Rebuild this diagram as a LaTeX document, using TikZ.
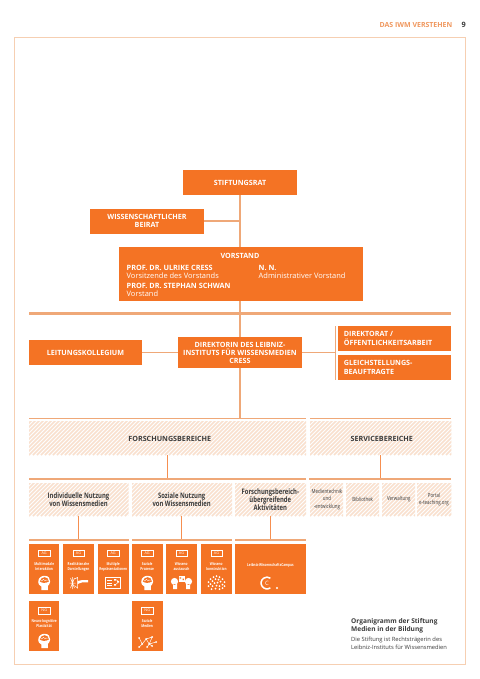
\documentclass[tikz,border=0pt]{standalone}
\usepackage{fontspec}
\setmainfont{Open Sans}
\newfontfamily\narrowfont[FakeStretch=0.78]{Open Sans}
\definecolor{iwm}{HTML}{F47324}
\definecolor{iwmline}{HTML}{EFA878}
\definecolor{iwmframe}{HTML}{F6CFB2}
\definecolor{iwmhatch}{HTML}{F9E0CE}
\definecolor{ink}{HTML}{3C3C3C}
\tikzset{
 x=1bp,y=-1bp,
 box/.style={text=white,font=\fontsize{7.2}{8.3}\selectfont\bfseries,align=center,inner sep=0pt},
 vbox/.style={text=white,anchor=north west,align=left,inner sep=0pt,font=\fontsize{7.5}{8}\selectfont},
 conn/.style={draw=iwmline,line width=1.2bp},
 strong/.style={draw=iwm!80!white,line width=1bp},
 rule/.style={draw=iwmline,line width=1.2bp},
 hatchbox/.style={inner sep=0pt,align=center,text=ink},
 tiletext/.style={text=white,font=\narrowfont\fontsize{4}{5}\selectfont\bfseries,align=center,inner sep=0pt},
 tagbox/.style={draw=white,line width=.4bp,text=white,font=\fontsize{3.8}{4}\selectfont,minimum width=11.5bp,minimum height=6.6bp,inner sep=0pt},
}
\newcommand{\hatchrect}[4]{%
 \begin{scope}
 \clip (#1,#2) rectangle (#3,#4);
 \foreach \k in {0,4,...,340}{
  \draw[iwmhatch,line width=1.5bp] ({#1+\k-40},#4) -- ++(40,-40);
 }
 \end{scope}
}
\newcommand{\brain}[2]{% centre x, y
 \begin{scope}[shift={(#1,#2)}]
 \fill[white] (-6,-1) .. controls (-6,-6) and (-2,-7.2) .. (0.5,-7.2)
   .. controls (4.5,-7.2) and (6,-4.5) .. (6,-1.5)
   .. controls (6,0.5) and (4.5,2) .. (3.6,3)
   -- (3.6,7) -- (-2.8,7) -- (-2.8,3.5) .. controls (-5,2.5) and (-6,1) .. (-6,-1) -- cycle;
 \fill[iwm] (-4.4,-1.5) .. controls (-4.4,-4.5) and (-1,-5.8) .. (0.5,-5.8)
   .. controls (3,-5.8) and (4.6,-3.8) .. (4.6,-1.5)
   .. controls (2,.3) and (-2,.3) .. (-4.4,-1.5) -- cycle;
 \draw[white,line width=.5bp] (-3,-2) .. controls (-2,-4) and (-1,-2) .. (0,-4) (0,-2) .. controls (1,-4) and (2,-2) .. (3.5,-3);
 \end{scope}
}
\begin{document}
\begin{tikzpicture}
\useasboundingbox (0,0) rectangle (480,679);
\fill[white] (0,0) rectangle (480,679);
% frame and header
\draw[iwmframe,line width=1bp] (14.5,37.2) rectangle (465.5,664.5);
\node[anchor=east,inner sep=0pt,text=iwmline!70!iwm,font=\fontsize{7}{8}\selectfont\bfseries] (hdr) at (452.5,25.5) {DAS IWM VERSTEHEN};
\node[anchor=east,inner sep=0pt,text=ink,font=\fontsize{7.4}{8}\selectfont\bfseries] (pg) at (466,25.3) {9};
% Stiftungsrat and Beirat
\coordinate (stiftS) at (240,195);
\coordinate (vorN) at (240,247);
\coordinate (beiE) at (204,221);
\coordinate (beiJ) at (240,221);
\draw[conn] (stiftS) -- (vorN);
\draw[conn] (beiE) -- (beiJ);
\fill[iwm] (183,170) rectangle (297,195);
\node[box] (stift) at (240,182.5) {STIFTUNGSRAT};
\fill[iwm] (90,208.5) rectangle (204,233.5);
\node[box] (beirat) at (147,221) {WISSENSCHAFTLICHER\\BEIRAT};
% Vorstand
\fill[iwm] (119,247.3) rectangle (363,301.3);
\node[box] (vor) at (240,255.5) {VORSTAND};
\node[vbox] (v1) at (126.5,264.9) {{\fontsize{7.3}{8}\selectfont\bfseries PROF. DR. ULRIKE CRESS}\\Vorsitzende des Vorstands};
\node[vbox] (v2) at (126.5,282.7) {{\fontsize{7.3}{8}\selectfont\bfseries PROF. DR. STEPHAN SCHWAN}\\Vorstand};
\node[vbox] (v3) at (258.5,264.9) {{\fontsize{7.3}{8}\selectfont\bfseries N. N.}\\Administrativer Vorstand};
% middle
\coordinate (vorS) at (240,301.3);
\coordinate (dirN) at (240,337);
\coordinate (dirS) at (240,368.3);
\coordinate (forN) at (240,418.3);
\draw[conn] (vorS) -- (dirN);
\draw[conn] (dirS) -- (forN);
\draw[iwmline,line width=2.6bp] (29,313.5) -- (451.3,313.5);
\coordinate (leiE) at (142,352.5);
\coordinate (dirW) at (178,352.5);
\coordinate (dirE) at (302,352.5);
\coordinate (brk) at (335.5,352.5);
\draw[conn] (leiE) -- (dirW);
\draw[conn] (dirE) -- (brk);
\draw[conn] (335.5,326) -- (335.5,379.5);
\fill[iwm] (178,336.7) rectangle (302,368.3);
\node[box] (dir) at (240,352.8) {DIREKTORIN DES LEIBNIZ-\\INSTITUTS FÜR WISSENSMEDIEN\\CRESS};
\fill[iwm] (29,340.3) rectangle (142,365);
\node[box] (lei) at (85.5,353) {LEITUNGSKOLLEGIUM};
\fill[iwm] (338,326) rectangle (451.3,350.7);
\node[box,anchor=west,align=left] (dkt) at (343.7,338.5) {DIREKTORAT /\\ÖFFENTLICHKEITSARBEIT};
\fill[iwm] (338,355) rectangle (451.3,379.5);
\node[box,anchor=west,align=left] (gls) at (343.7,367.3) {GLEICHSTELLUNGS-\\BEAUFTRAGTE};
% upper rules
\draw[rule] (29,418.3) -- (306,418.3);
\draw[rule] (310,418.3) -- (451.3,418.3);
\hatchrect{29}{421.8}{306}{455}
\hatchrect{310}{421.8}{451.3}{455}
\node[hatchbox,font=\fontsize{7.2}{8}\selectfont\bfseries] (fb) at (169.8,438.5) {FORSCHUNGSBEREICHE};
\node[hatchbox,font=\fontsize{7.2}{8}\selectfont\bfseries] (sb) at (381.8,438.5) {SERVICEBEREICHE};
\coordinate (fbS) at (167.3,455); \coordinate (fbL) at (167.3,479);
\coordinate (sbS) at (380.3,455); \coordinate (sbL) at (380.3,479);
\draw[strong] (fbS) -- (fbL);
\draw[strong] (sbS) -- (sbL);
\draw[rule] (29,479) -- (306,479);
\draw[rule] (309,479) -- (451.3,479);
% sub hatches
\hatchrect{29}{483}{128.5}{516}
\hatchrect{132}{483}{232}{516}
\hatchrect{235}{483}{306}{516}
\hatchrect{310}{483}{343}{516}
\hatchrect{346}{483}{379}{516}
\hatchrect{382}{483}{415}{516}
\hatchrect{417}{483}{451.3}{516}
\tikzset{subtxt/.style={hatchbox,font=\narrowfont\fontsize{7.6}{7.7}\selectfont\bfseries},svctxt/.style={hatchbox,font=\narrowfont\fontsize{5.7}{7.3}\selectfont}}
\node[subtxt] (s1) at (78.5,499.5) {Individuelle Nutzung\\von Wissensmedien};
\node[subtxt] (s2) at (181.7,499.5) {Soziale Nutzung\\von Wissensmedien};
\node[subtxt] (s3) at (270.3,499.5) {Forschungsbereich-\\übergreifende\\Aktivitäten};
\node[svctxt] (t1) at (327,499.5) {Medientechnik\\und\\-entwicklung};
\node[svctxt] (t2) at (362.7,499.5) {Bibliothek};
\node[svctxt] (t3) at (398.8,499.5) {Verwaltung};
\node[svctxt,font=\narrowfont\fontsize{5.7}{7.7}\selectfont] (t4) at (434,499.5) {Portal\\e-teaching.org};
\coordinate (s1S) at (78.5,516); \coordinate (s1L) at (78.5,540);
\coordinate (s2S) at (181.5,516); \coordinate (s2L) at (181.5,540);
\coordinate (s3S) at (270.3,516); \coordinate (s3L) at (270.3,540);
\draw[strong] (s1S) -- (s1L);
\draw[strong] (s2S) -- (s2L);
\draw[strong] (s3S) -- (s3L);
\draw[rule] (29,540) -- (128.5,540);
\draw[rule] (132,540) -- (232,540);
\draw[rule] (235,540) -- (306,540);
% tiles
\foreach \a/\b in {29/59.3,63/94,98/128.5,132/162.5,166/197,201/232}{\fill[iwm] (\a,544) rectangle (\b,594);}
\fill[iwm] (235,544) rectangle (306,594);
\fill[iwm] (29,601) rectangle (59.3,651);
\fill[iwm] (132,601) rectangle (162.5,651);
% tags and texts
\foreach \c/\n in {44.2/a,78.5/b,113.2/c,147.2/d,181.5/e,216.5/f}{\node[tagbox] (tag\n) at (\c,553) {AG};}
\node[tagbox] (tagg) at (44.2,610.5) {NG};
\node[tagbox] (tagh) at (147.2,610.5) {NG};
\node[tiletext] (l1) at (44.2,566.5) {Multimodale\\Interaktion};
\node[tiletext] (l2) at (78.5,566.5) {Realitätsnahe\\Darstellungen};
\node[tiletext] (l3) at (113.2,566.5) {Multiple\\Repräsentationen};
\node[tiletext] (l4) at (147.2,566.5) {Soziale\\Prozesse};
\node[tiletext] (l5) at (181.5,566.5) {Wissens-\\austausch};
\node[tiletext] (l6) at (216.5,566.5) {Wissens-\\konstruktion};
\node[tiletext] (l7) at (44.2,623.5) {Neuro-kognitive\\Plastizität};
\node[tiletext] (l8) at (147.2,623.5) {Soziale\\Medien};
\node[tiletext] (l9) at (270.5,565.5) {Leibniz-WissenschaftsCampus};
% icons
\brain{44.2}{583}
\brain{147.2}{583}
\brain{44.2}{641}
\begin{scope}[shift={(78.5,583)}]
 \draw[white,line width=.5bp] (-9,0) -- (-3,0) (-6,-6) -- (-6,6) (-8,5) -- (-4,-5) (-8,-5) -- (-4,5);
 \draw[white,line width=.5bp] (-4,-4) -- (-1,-5.5) -- (-1,5) -- (-4,2.5);
 \fill[white] (-1,-2) -- (4,-3) -- (9.5,-3) -- (9.5,-.7) -- (4,-.7) -- (-1,1) -- cycle;
\end{scope}
\begin{scope}[shift={(113.2,583)}]
 \draw[white,line width=.5bp] (-7.5,-5.5) rectangle (7.5,5.5);
 \foreach \yy in {-2.5,0,2.5}{\draw[white,line width=.5bp] (-6,\yy) -- (-1,\yy);}
 \fill[white] (1,-4) rectangle (3,-2.5) (4,-2) rectangle (6,-.5) (1,1) rectangle (3,2.5);
 \draw[white,line width=.4bp] (3,-3.2) -- (5,-2) (5,-.5) -- (3,1);
\end{scope}
\begin{scope}[shift={(181.5,583)}]
 \fill[white] (-7,-1.5) circle (3.6) (-8.5,1) rectangle (-4.5,6);
 \fill[white] (7,-1.5) circle (3.6) (4.5,1) rectangle (8.5,6);
 \fill[white] (-3,-7) rectangle (3.5,-1.5);
 \fill[iwm] (-1.8,-5.6) rectangle (-.5,-4.4) (1,-4.4) rectangle (2.3,-3);
\end{scope}
\begin{scope}[shift={(216.5,583)}]
 \foreach \p/\q in {0/-7,-3/-6,3/-6,-6/-4,-1/-4,2/-3.5,6/-4,-8/-1,-4/-2,4/-1.5,8/-1,-6/1,-2/0,1/-.5,6/1.5,-8/3,-4/3,0/2.5,3/3,8/3,-5/6,-1/5.5,3/6,6/5}{\fill[white] (\p,\q) circle (1);}
\end{scope}
\begin{scope}[shift={(147.2,641)}]
 \coordinate (n1) at (-8,-3); \coordinate (n2) at (-5,3); \coordinate (n3) at (-8,6); \coordinate (n4) at (-1,-2);
 \coordinate (n5) at (2,3); \coordinate (n6) at (0,6); \coordinate (n7) at (5,-4); \coordinate (n8) at (9,1); \coordinate (n9) at (5,5);
 \draw[white,line width=.5bp] (n1)--(n2)--(n3) (n2)--(n4)--(n5)--(n6) (n4)--(n7)--(n5)--(n8) (n5)--(n9);
 \foreach \n in {n1,n2,n3,n4,n5,n6,n7,n8,n9}{\fill[white] (\n) circle (1);}
\end{scope}
\begin{scope}[shift={(267,583)}]
 \draw[white,line width=1.5bp] (0,0) ++(55:5.9) arc (55:305:5.9);
 \node[text=white,inner sep=0pt,font=\fontsize{6}{6}\selectfont] (cc) at (0,0) {C};
 \fill[white] (10,5) circle (1.2);
\end{scope}
% caption
\node[anchor=north west,inner sep=0pt,align=left,text=ink,font=\fontsize{6.6}{8}\selectfont\bfseries] (cap) at (351,618.3) {Organigramm der Stiftung\\Medien in der Bildung};
\node[anchor=north west,inner sep=0pt,align=left,text=ink,font=\fontsize{5.8}{8}\selectfont] (cap2) at (351,636.5) {Die Stiftung ist Rechtsträgerin des\\Leibniz-Instituts für Wissensmedien};
\end{tikzpicture}
\end{document}
